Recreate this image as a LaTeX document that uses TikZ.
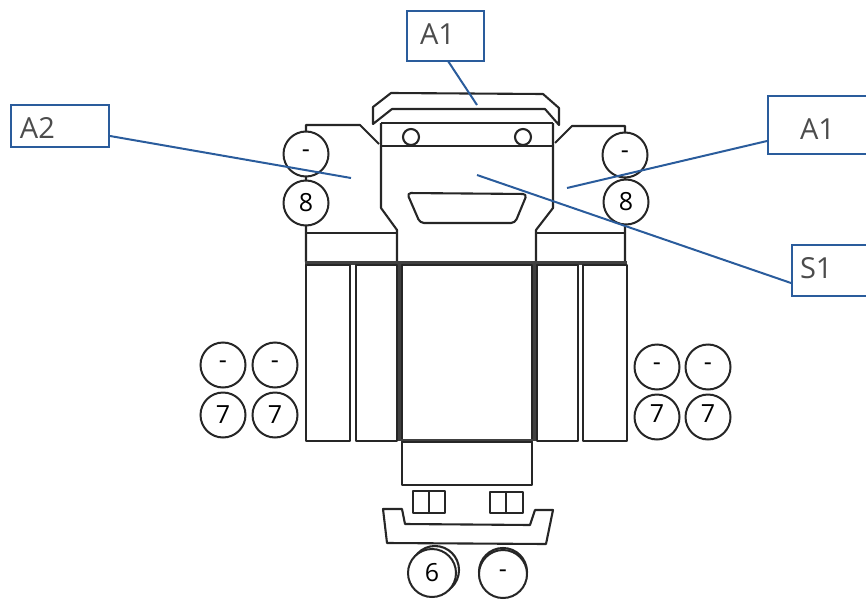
\documentclass[tikz,border=0pt]{standalone}
\usepackage{fontspec}
\setmainfont{Open Sans}
\definecolor{callblue}{HTML}{2A5C9C}
\newcommand{\taglabel}[3]{\hspace*{#1}\raisebox{#2}[\height][\depth]{#3}}
\tikzset{
  line/.style={black!85, line width=2.1pt, line join=round},
  heavy/.style={black!75, line width=3.6pt},
  tyre/.style={circle, draw=black!85, fill=white, line width=2pt, inner sep=0pt, minimum size=45pt, font=\fontsize{25}{25}\selectfont},
  tag/.style={draw=callblue, line width=2pt, inner xsep=0pt, inner ysep=0pt, align=left, font=\fontsize{29}{29}\selectfont, text=black!70},
  lead/.style={callblue, line width=2pt}
}
\begin{document}
\begin{tikzpicture}[x=1pt, y=-1pt]
  \useasboundingbox (0, 0) rectangle (866, 599);

  % hood
  \draw[line] (373,107) -- (391,93) -- (543,94) -- (559,108) -- (559,125) -- (545,109) -- (392,109) -- (373,124) -- cycle;

  % cab
  \draw[line] (381,123) -- (553,123);
  \draw[line] (381,146) -- (553,146);
  \draw[line] (381,123) -- (381,208) -- (397,230) -- (397,262);
  \draw[line] (553,123) -- (553,208) -- (536,230) -- (536,262);
  \draw[line] (411,137) circle (8);
  \draw[line] (523,137) circle (8);
  \draw[line, rounded corners=4pt] (407,193) -- (527,194) -- (515,223) -- (420,223) -- cycle;

  % wings
  \draw[line] (379,144) -- (360,125) -- (306,125) -- (306,262);
  \draw[line] (555,143) -- (572,126) -- (625,126) -- (625,262);
  \draw[line] (306,233) -- (397,233);
  \draw[line] (536,233) -- (625,233);
  \draw[heavy] (305,263) -- (627,263);

  % body panels
  \draw[line] (306,265) rectangle (350,441);
  \draw[line] (356,265) rectangle (397,441);
  \draw[line] (537,265) rectangle (578,441);
  \draw[line] (583,265) rectangle (627,441);
  \draw[line] (402,265) rectangle (532,440);
  \draw[heavy] (399.5,263) -- (399.5,441);
  \draw[heavy] (534.5,263) -- (534.5,441);
  \draw[heavy] (401,441) -- (533,441);
  \draw[line] (402,442) rectangle (532,485);

  % rear steps and bumper
  \draw[line] (413,491) rectangle (445,513);
  \draw[line] (429,491) -- (429,513);
  \draw[line] (490,492) rectangle (523,513);
  \draw[line] (506,492) -- (506,513);
  \draw[line] (383,509) -- (402,509) -- (405,524) -- (530,525) -- (535,510) -- (553,510) -- (546,544) -- (387,543) -- cycle;

  % front tyres
  \node[tyre] (frontminusl) at (306,154) {-};
  \node[tyre] (frontminusr) at (625,155) {-};
  \node[tyre] (frontl) at (306,203) {8};
  \node[tyre] (frontr) at (626,202) {8};
  \draw[line] (frontminusl) -- (frontl);
  \draw[line] (frontminusr) -- (frontr);

  % middle tyres
  \node[tyre] (midminusa) at (223,365) {-};
  \node[tyre] (midminusb) at (275,365) {-};
  \node[tyre] (mida) at (223,415) {7};
  \node[tyre] (midb) at (275,415) {7};
  \node[tyre] (midminusc) at (657,367) {-};
  \node[tyre] (midminusd) at (708,367) {-};
  \node[tyre] (midc) at (657,417) {\raisebox{3pt}[\height][\depth]{7}};
  \node[tyre] (midd) at (708,417) {\raisebox{3pt}[\height][\depth]{7}};

  % rear tyres
  \draw[line] (435,570) circle (24);
  \node[tyre, minimum size=48pt] (rearl) at (432,573) {6};
  \draw[line] (503,572) circle (24);
  \node[tyre, minimum size=48pt] (rearr) at (503,574) {-};

  % callouts
  \node[tag, text width=77pt, minimum height=50pt] (tagtop) at (445.5,36) {\taglabel{13pt}{2pt}{A1}};
  \node[tag, text width=98pt, minimum height=42pt] (tagleft) at (60,126) {\taglabel{9pt}{-2pt}{A2}};
  \node[tag, text width=110pt, minimum height=58pt] (tagright) at (823,125) {\taglabel{32pt}{-4pt}{A1}};
  \node[tag, text width=90pt, minimum height=51pt] (tagside) at (837,270.5) {\taglabel{8pt}{2pt}{S1}};
  \coordinate (hoodpt) at (477,105);
  \coordinate (wingl) at (351,178);
  \coordinate (wingr) at (567,188);
  \coordinate (cabpt) at (477,175);
  \draw[lead] (448,61) -- (hoodpt);
  \draw[lead] (tagleft.east |- 0,136) -- (wingl);
  \draw[lead] (tagright.west |- 0,141) -- (wingr);
  \draw[lead] (tagside.west |- 0,283) -- (cabpt);
\end{tikzpicture}
\end{document}
